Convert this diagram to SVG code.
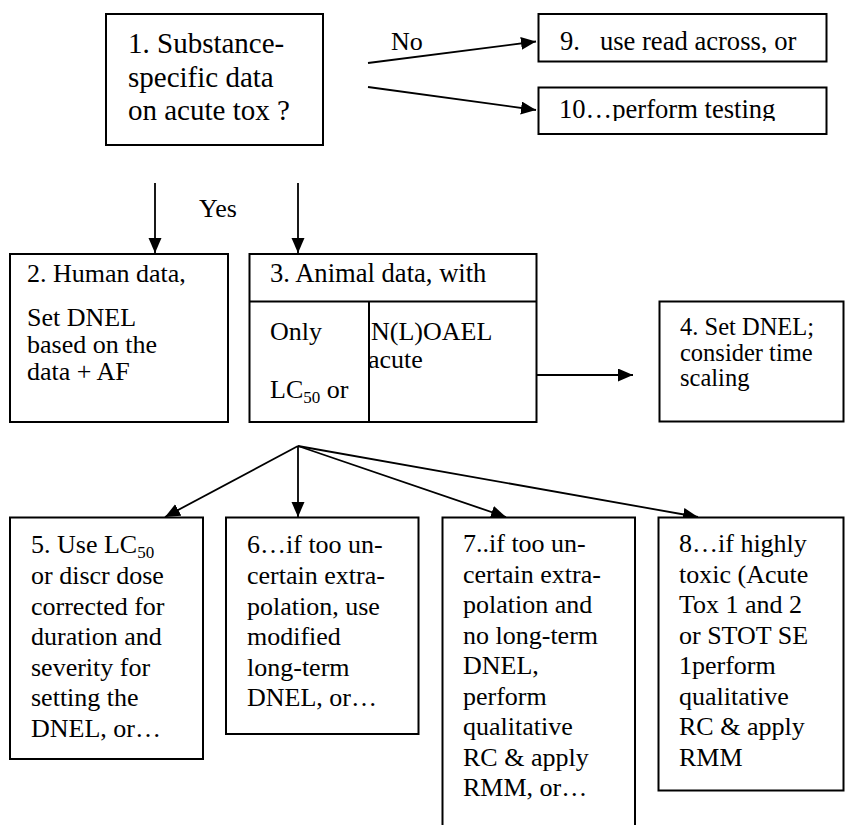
<svg xmlns="http://www.w3.org/2000/svg" width="845" height="825" viewBox="0 0 845 825">
<style>
.box{fill:#fff;stroke:#000;stroke-width:2}
.ln{fill:none;stroke:#000;stroke-width:1.8}
.t{font-family:'Liberation Serif','Times New Roman',serif;font-size:26px;fill:#000}
.big{font-size:29px}
.s265{font-size:26.6px}
.s24{font-size:24.5px}
.sub{font-size:17px}
</style>
<defs>
<marker id="ah" markerUnits="userSpaceOnUse" markerWidth="16" markerHeight="14" refX="15" refY="6.5" orient="auto">
<path d="M0,0 L15,6.5 L0,13 z" fill="#000"/>
</marker>
<clipPath id="c9"><rect x="539" y="14" width="288" height="39"/></clipPath>
<clipPath id="c10"><rect x="539" y="88" width="288" height="33"/></clipPath>
</defs>
<g id="connectors">
<line class="ln" x1="368" y1="63" x2="536" y2="41.5" marker-end="url(#ah)"/>
<line class="ln" x1="368" y1="87" x2="536" y2="110" marker-end="url(#ah)"/>
<line class="ln" x1="155" y1="183" x2="155" y2="253" marker-end="url(#ah)"/>
<line class="ln" x1="298" y1="183" x2="298" y2="253" marker-end="url(#ah)"/>
<line class="ln" x1="537" y1="375" x2="633" y2="375" marker-end="url(#ah)"/>
<line class="ln" x1="298" y1="446" x2="165" y2="517" marker-end="url(#ah)"/>
<line class="ln" x1="298" y1="446" x2="298" y2="517" marker-end="url(#ah)"/>
<line class="ln" x1="298" y1="446" x2="506" y2="517" marker-end="url(#ah)"/>
<line class="ln" x1="298" y1="446" x2="698" y2="517" marker-end="url(#ah)"/>
<text class="t" x="391" y="50">No</text>
<text class="t" x="199" y="217">Yes</text>
</g>
<g id="n1">
<rect class="box" x="106" y="14" width="217" height="131"/>
<text class="t big" x="128" y="53">1. Substance-</text>
<text class="t big" x="128" y="87">specific data</text>
<text class="t big" x="128" y="120">on acute tox ?</text>
</g>
<g id="n9">
<rect class="box" x="538.5" y="14" width="288" height="47.5"/>
<text class="t s265" x="560" y="50" clip-path="url(#c9)" xml:space="preserve">9.   use read across, or</text>
</g>
<g id="n10">
<rect class="box" x="538.5" y="87.5" width="288" height="46.5"/>
<text class="t s265" x="559" y="118" clip-path="url(#c10)">10…perform testing</text>
</g>
<g id="n2">
<rect class="box" x="10" y="254" width="218" height="168"/>
<text class="t" x="27" y="282">2. Human data,</text>
<text class="t" x="27" y="326">Set DNEL</text>
<text class="t" x="27" y="353">based on the</text>
<text class="t" x="27" y="380">data + AF</text>
</g>
<g id="n3">
<rect class="box" x="249.5" y="254" width="287" height="168"/>
<line class="ln" x1="249.5" y1="301.5" x2="536.5" y2="301.5" style="stroke-width:2"/>
<line class="ln" x1="369" y1="301.5" x2="369" y2="422" style="stroke-width:2"/>
<text class="t s265" x="270" y="282">3. Animal data, with</text>
<text class="t" x="270" y="340">Only</text>
<text class="t" x="371" y="340">N(L)OAEL</text>
<text class="t" x="368" y="368">acute</text>
<text class="t" x="270" y="398">LC<tspan class="sub" dy="5">50</tspan><tspan dy="-5"> or</tspan></text>
</g>
<g id="n4">
<rect class="box" x="659.5" y="301.5" width="184" height="120"/>
<text class="t s24" x="680" y="335">4. Set DNEL;</text>
<text class="t s24" x="680" y="361">consider time</text>
<text class="t s24" x="680" y="386">scaling</text>
</g>
<g id="n5">
<rect class="box" x="10" y="517.5" width="193" height="241.5"/>
<text class="t" x="31" y="553">5. Use LC<tspan class="sub" dy="5">50</tspan></text>
<text class="t" x="31" y="584">or discr dose</text>
<text class="t" x="31" y="614.5">corrected for</text>
<text class="t" x="31" y="645">duration and</text>
<text class="t" x="31" y="675.5">severity for</text>
<text class="t" x="31" y="706">setting the</text>
<text class="t" x="31" y="737">DNEL, or…</text>
</g>
<g id="n6">
<rect class="box" x="226" y="517.5" width="192.5" height="216.5"/>
<text class="t" x="247" y="553">6…if too un-</text>
<text class="t" x="247" y="584">certain extra-</text>
<text class="t" x="247" y="614.5">polation, use</text>
<text class="t" x="247" y="645">modified</text>
<text class="t" x="247" y="675.5">long-term</text>
<text class="t" x="247" y="706">DNEL, or…</text>
</g>
<g id="n7">
<rect class="box" x="442.5" y="517.5" width="192.5" height="320"/>
<text class="t" x="463" y="552">7..if too un-</text>
<text class="t" x="463" y="582.5">certain extra-</text>
<text class="t" x="463" y="613">polation and</text>
<text class="t" x="463" y="643.5">no long-term</text>
<text class="t" x="463" y="674">DNEL,</text>
<text class="t" x="463" y="704.5">perform</text>
<text class="t" x="463" y="735">qualitative</text>
<text class="t" x="463" y="765.5">RC &amp; apply</text>
<text class="t" x="463" y="796">RMM, or…</text>
</g>
<g id="n8">
<rect class="box" x="658.5" y="517.5" width="185" height="273"/>
<text class="t" x="679" y="552">8…if highly</text>
<text class="t" x="679" y="582.5">toxic (Acute</text>
<text class="t" x="679" y="613">Tox 1 and 2</text>
<text class="t" x="679" y="643.5">or STOT SE</text>
<text class="t" x="679" y="674">1perform</text>
<text class="t" x="679" y="704.5">qualitative</text>
<text class="t" x="679" y="735">RC &amp; apply</text>
<text class="t" x="679" y="765.5">RMM</text>
</g>
</svg>
